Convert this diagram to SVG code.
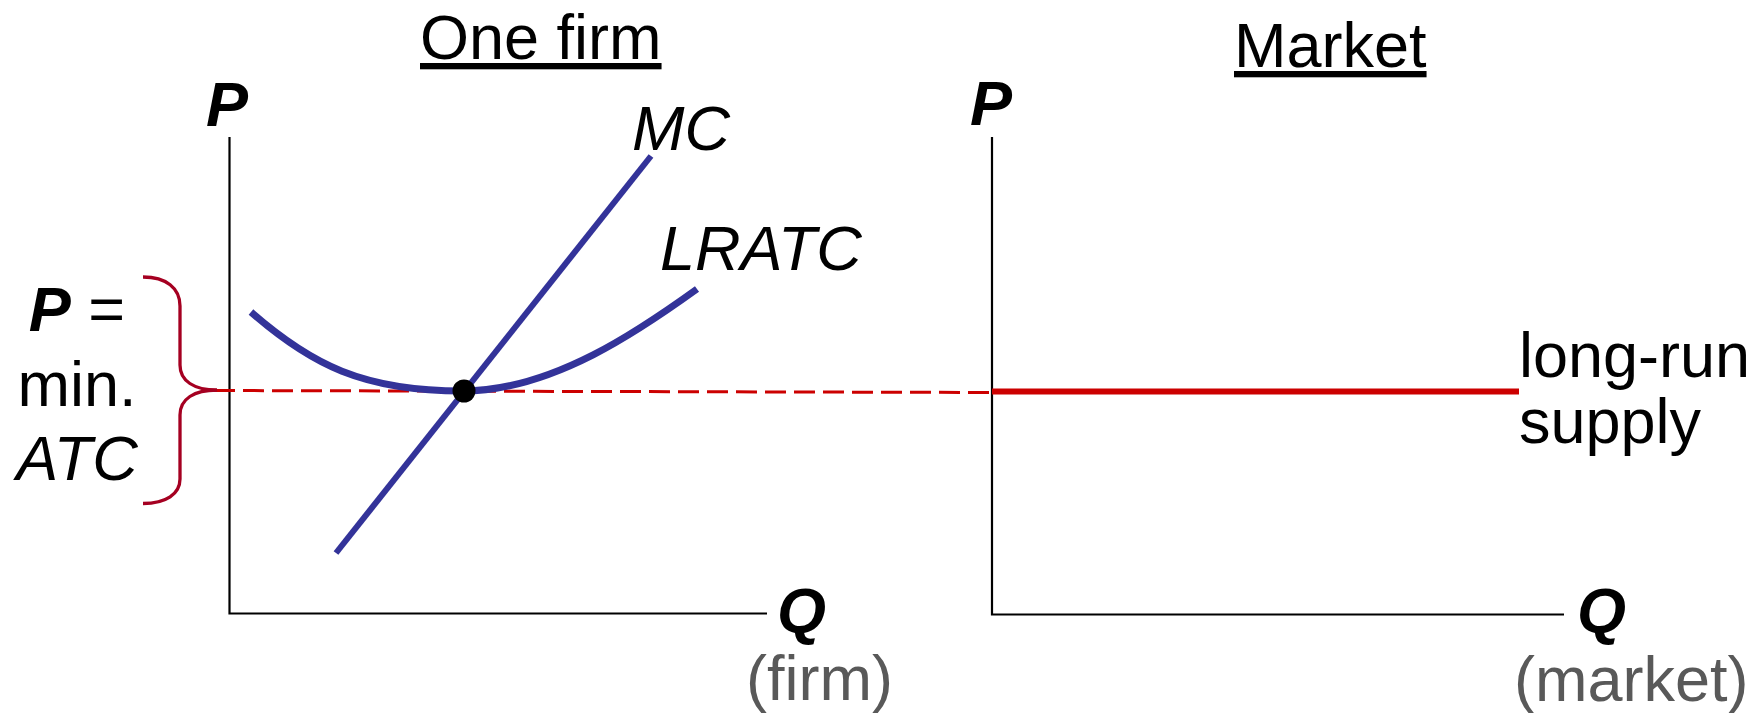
<svg xmlns="http://www.w3.org/2000/svg" width="1764" height="713" viewBox="0 0 1764 713">
<style>
text{font-family:"Liberation Sans",Arial,sans-serif;font-size:63px;fill:#000}
.bi{font-weight:bold;font-style:italic}
.it{font-style:italic}
.gray{fill:#595959}
.axis{stroke:#000;stroke-width:2.2;fill:none}
.blue{stroke:#333399;fill:none;stroke-linecap:butt}
</style>
<rect width="1764" height="713" fill="#fff"/>
<g id="titles">
<text x="420" y="59" text-decoration="underline">One firm</text>
<text x="1234" y="67" text-decoration="underline">Market</text>
</g>
<g id="firm-axes">
<path class="axis" d="M229.5,137 V613.5 H767"/>
<text class="bi" x="206" y="126" font-size="66">P</text>
<text class="bi" x="777" y="632" font-size="64">Q</text>
<text class="gray" x="746" y="700">(firm)</text>
</g>
<g id="market-axes">
<path class="axis" d="M992,137 V614.5 H1564"/>
<text class="bi" x="970" y="125" font-size="66">P</text>
<text class="bi" x="1577" y="632" font-size="64">Q</text>
<text class="gray" x="1514" y="701">(market)</text>
</g>
<g id="connectors">
<line x1="214" y1="390.5" x2="990" y2="392.5" stroke="#CC0000" stroke-width="3" stroke-dasharray="21 8"/>
</g>
<g id="lrac">
<path class="blue" stroke-width="7" d="M251,312 C311,364.5 363,391 463,391 C553,391 642,328.6 697,289"/>
<text class="it" x="660" y="270">LRATC</text>
</g>
<g id="mc">
<line class="blue" stroke-width="6" x1="336" y1="553" x2="651" y2="156"/>
<text class="it" x="632" y="150">MC</text>
</g>
<g id="equilibrium">
<circle cx="464" cy="391" r="11.5" fill="#000"/>
</g>
<g id="brace-label">
<path d="M143,277 C166,277 180,288 180,306 L180,365 C180,381 194,390 217,390 C194,390 180,399 180,415 L180,479 C180,494 166,503.5 143,503.5" fill="none" stroke="#A50021" stroke-width="3.3"/>
<text x="77" y="331" text-anchor="middle"><tspan class="bi">P</tspan> =</text>
<text x="77" y="406" text-anchor="middle">min.</text>
<text class="it" x="77" y="480" text-anchor="middle">ATC</text>
</g>
<g id="supply">
<line x1="992" y1="391.5" x2="1519" y2="391.5" stroke="#CC0000" stroke-width="6"/>
<text x="1519" y="377">long-run</text>
<text x="1519" y="443">supply</text>
</g>
</svg>
